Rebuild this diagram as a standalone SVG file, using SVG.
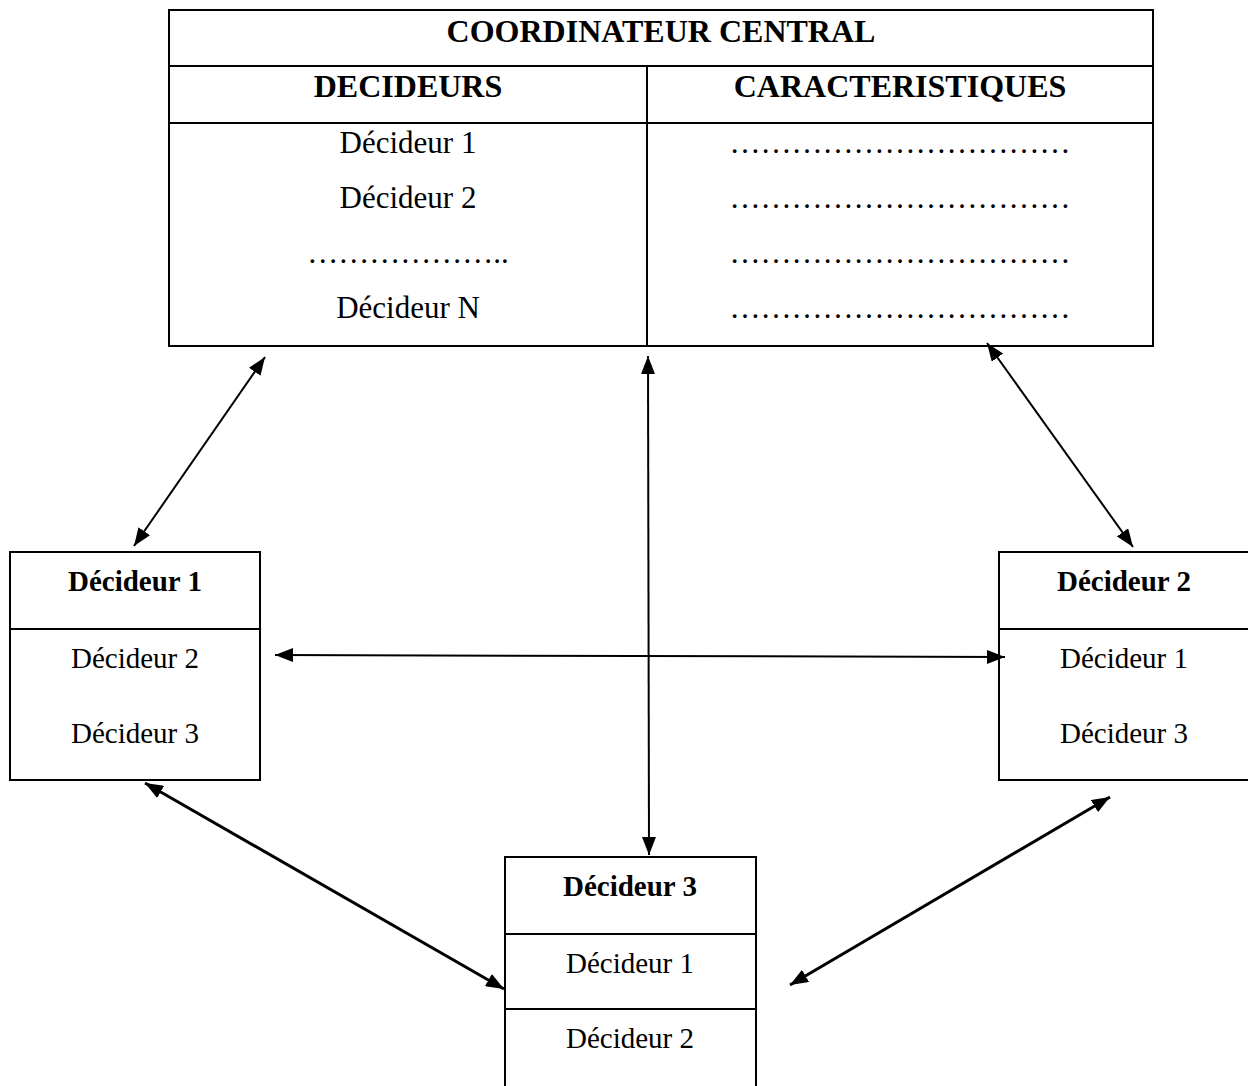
<svg xmlns="http://www.w3.org/2000/svg" width="1248" height="1086" viewBox="0 0 1248 1086">
<defs>
<style>
.box{fill:#fff;stroke:#000;stroke-width:2}
.ln{stroke:#000;stroke-width:2;fill:none}
.t{font-family:"Liberation Serif","Times New Roman",serif;fill:#000;text-anchor:middle}
.h{font-size:32px;font-weight:bold}
.r{font-size:31px}
.bb{font-size:29px;font-weight:bold}
.br{font-size:29px}
.c{stroke:#000;fill:none;marker-start:url(#ah);marker-end:url(#ah)}
.c2{stroke-width:2}
.c3{stroke-width:3}
</style>
<marker id="ah" viewBox="0 0 18 14" refX="18" refY="7" markerWidth="18" markerHeight="14" markerUnits="userSpaceOnUse" orient="auto-start-reverse">
<path d="M0,0 L18,7 L0,14 z" fill="#000"/>
</marker>
</defs>
<rect width="1248" height="1086" fill="#fff"/>

<g id="coordinateur">
<rect class="box" x="169" y="10" width="984" height="336"/>
<line class="ln" x1="169" y1="66" x2="1153" y2="66"/>
<line class="ln" x1="169" y1="123" x2="1153" y2="123"/>
<line class="ln" x1="647" y1="66" x2="647" y2="346"/>
<text class="t h" x="661" y="42">COORDINATEUR CENTRAL</text>
<text class="t h" x="408" y="97">DECIDEURS</text>
<text class="t h" x="900" y="97">CARACTERISTIQUES</text>
<text class="t r" x="408" y="153">Décideur 1</text>
<text class="t r" x="408" y="208">Décideur 2</text>
<text class="t r" x="408" y="263">………………..</text>
<text class="t r" x="408" y="318">Décideur N</text>
<text class="t r" x="900" y="153">……………………………</text>
<text class="t r" x="900" y="208">……………………………</text>
<text class="t r" x="900" y="263">……………………………</text>
<text class="t r" x="900" y="318">……………………………</text>
</g>

<g id="decideur1">
<rect class="box" x="10" y="552" width="250" height="228"/>
<line class="ln" x1="10" y1="629" x2="260" y2="629"/>
<text class="t bb" x="135" y="591">Décideur 1</text>
<text class="t br" x="135" y="668">Décideur 2</text>
<text class="t br" x="135" y="743">Décideur 3</text>
</g>

<g id="decideur2">
<rect class="box" x="999" y="552" width="252" height="228"/>
<line class="ln" x1="999" y1="629" x2="1250" y2="629"/>
<text class="t bb" x="1124" y="591">Décideur 2</text>
<text class="t br" x="1124" y="668">Décideur 1</text>
<text class="t br" x="1124" y="743">Décideur 3</text>
</g>

<g id="decideur3">
<rect class="box" x="505" y="857" width="251" height="240"/>
<line class="ln" x1="505" y1="934" x2="756" y2="934"/>
<line class="ln" x1="505" y1="1009" x2="756" y2="1009"/>
<text class="t bb" x="630" y="896">Décideur 3</text>
<text class="t br" x="630" y="973">Décideur 1</text>
<text class="t br" x="630" y="1048">Décideur 2</text>
</g>

<g id="connectors">
<line class="c c2" x1="265" y1="357" x2="134" y2="546"/>
<line class="c c2" x1="987" y1="343" x2="1133" y2="547"/>
<line class="c c2" x1="648" y1="356" x2="649" y2="855"/>
<line class="c c2" x1="275" y1="655" x2="1005" y2="657"/>
<line class="c c3" x1="145" y1="783" x2="504" y2="989"/>
<line class="c c3" x1="1110" y1="797" x2="790" y2="985"/>
</g>
</svg>
